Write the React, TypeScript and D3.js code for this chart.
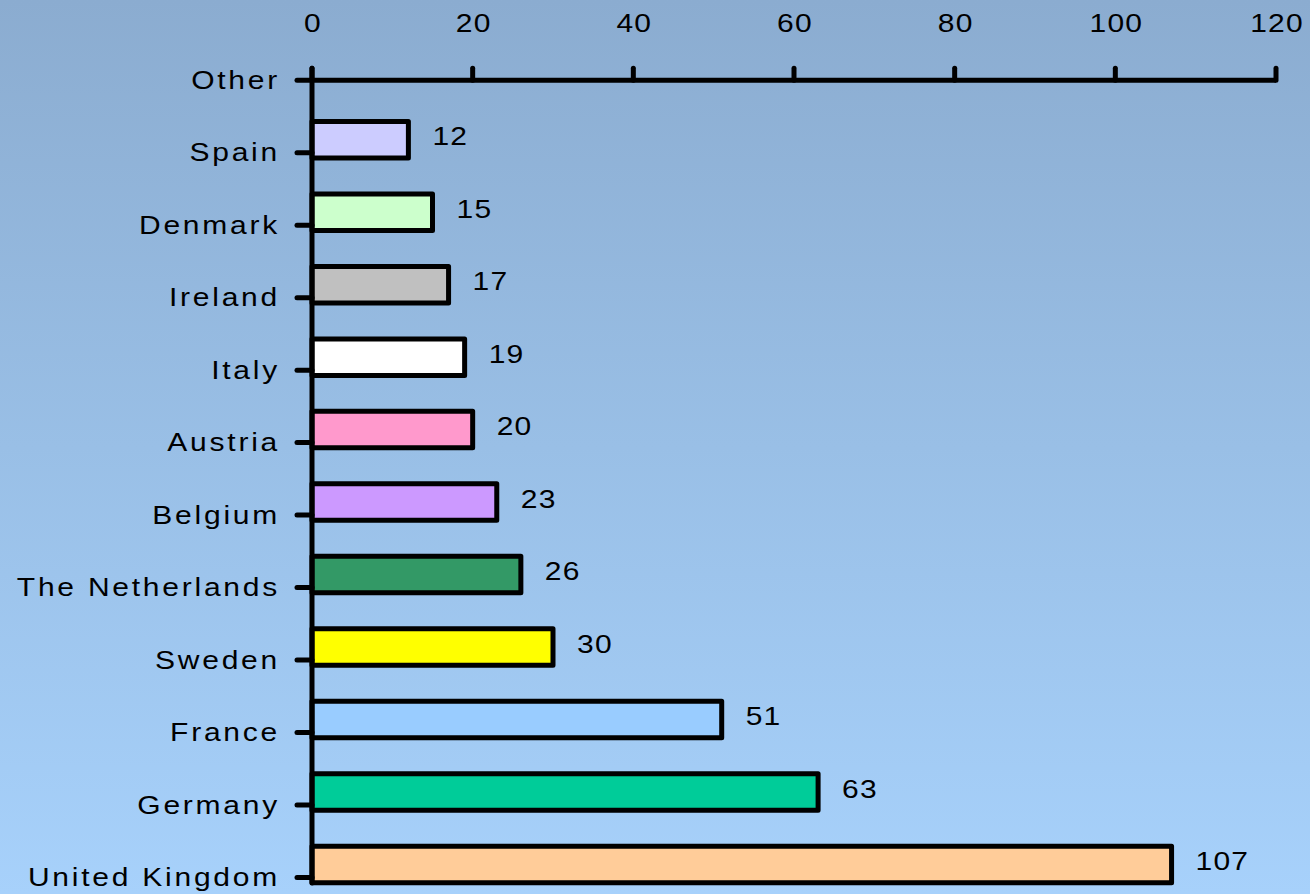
import React from "react";
import * as d3 from "d3";

const categories = [
  "Other",
  "Spain",
  "Denmark",
  "Ireland",
  "Italy",
  "Austria",
  "Belgium",
  "The Netherlands",
  "Sweden",
  "France",
  "Germany",
  "United Kingdom",
];
const values: (number | null)[] = [null, 12, 15, 17, 19, 20, 23, 26, 30, 51, 63, 107];
const barColors = [
  "none",
  "#CCCCFF",
  "#CCFFCC",
  "#C0C0C0",
  "#FFFFFF",
  "#FF99CC",
  "#CC99FF",
  "#339966",
  "#FFFF00",
  "#99CCFF",
  "#00CC99",
  "#FFCC99",
];
const xTicks = [0, 20, 40, 60, 80, 100, 120];

const W = 1310;
const H = 894;
const FONT = "'Liberation Sans', Arial, Helvetica, sans-serif";
const SX = 1.2;

export default function App() {
  const x = d3.scaleLinear().domain([0, 120]).range([312, 1276]);
  const y = d3.scalePoint<string>().domain(categories).range([67.2, 864.5]);
  const tickOff = 13;
  const axisY = (y(categories[0]) as number) + tickOff;
  const axisBottom = (y(categories[categories.length - 1]) as number) + 18.5;
  const barH = 36.5;
  const sw = 5;

  return (
    <svg
      width={W}
      height={H}
      style={{ position: "fixed", left: 0, top: 0, display: "block" }}
      fontFamily={FONT}
    >
      <defs>
        <linearGradient id="bg" x1="0" y1="0" x2="0" y2="1">
          <stop offset="0%" stopColor="#8BACD0" />
          <stop offset="50%" stopColor="#99BFE6" />
          <stop offset="100%" stopColor="#A7D1FB" />
        </linearGradient>
      </defs>
      <rect x={0} y={0} width={W} height={H} fill="url(#bg)" />

      {/* bars */}
      {categories.map((c, i) => {
        const v = values[i];
        if (v == null) return null;
        const yc = y(c) as number;
        return (
          <rect
            key={"b" + c}
            x={x(0)}
            y={yc - barH / 2}
            width={x(v) - x(0)}
            height={barH}
            fill={barColors[i]}
            stroke="#000"
            strokeWidth={sw}
            strokeLinejoin="round"
          />
        );
      })}

      {/* value labels */}
      {categories.map((c, i) => {
        const v = values[i];
        if (v == null) return null;
        const yc = y(c) as number;
        return (
          <text
            key={"v" + c}
            transform={`translate(${x(v) + 24},${yc + 5.5}) scale(${SX},1)`}
            fontSize={25}
            letterSpacing={1}
            fill="#000"
          >
            {v}
          </text>
        );
      })}

      {/* top axis */}
      <line x1={x(0)} x2={x(120)} y1={axisY} y2={axisY} stroke="#000" strokeWidth={sw} />
      {xTicks.map((t) => (
        <g key={"xt" + t}>
          <line
            x1={x(t)}
            x2={x(t)}
            y1={axisY - 12}
            y2={axisY}
            stroke="#000"
            strokeWidth={sw}
            strokeLinecap="round"
          />
          <text
            transform={`translate(${x(t) + 1},32) scale(${SX},1)`}
            textAnchor="middle"
            fontSize={25}
            letterSpacing={1}
            fill="#000"
          >
            {t}
          </text>
        </g>
      ))}

      {/* left axis */}
      <line
        x1={x(0)}
        x2={x(0)}
        y1={axisY - 12}
        y2={axisBottom}
        stroke="#000"
        strokeWidth={sw}
        strokeLinecap="round"
      />
      {categories.map((c) => {
        const ty = (y(c) as number) + tickOff;
        return (
          <g key={"yt" + c}>
            <line
              x1={x(0) - 15}
              x2={x(0)}
              y1={ty}
              y2={ty}
              stroke="#000"
              strokeWidth={sw}
              strokeLinecap="round"
            />
            <text
              transform={`translate(280,${ty + 8.5}) scale(${SX},1)`}
              textAnchor="end"
              fontSize={25}
              letterSpacing={2.3}
              fill="#000"
            >
              {c}
            </text>
          </g>
        );
      })}
    </svg>
  );
}
